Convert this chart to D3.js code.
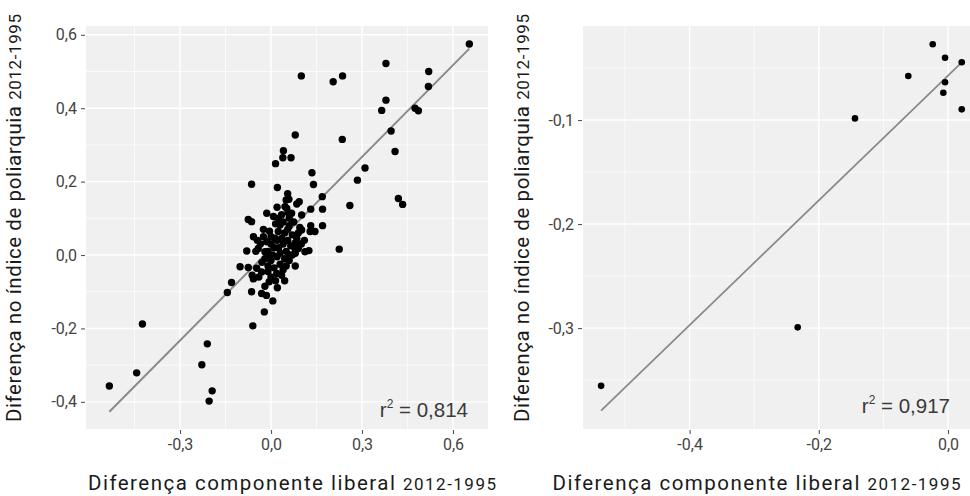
<!DOCTYPE html>
<html>
<head>
<meta charset="utf-8">
<script src="https://cdn.jsdelivr.net/npm/d3@7"></script>
<style>
  body { margin: 0; background: #fff; }
  .tick text { font-family: Roboto, "DejaVu Sans", sans-serif; font-size: 16px; fill: #444; }
  .title { font-family: Roboto, "DejaVu Sans", sans-serif; font-size: 20.5px; fill: #1a1a1a; }
  .rsq { font-family: "Liberation Sans", Arial, sans-serif; font-size: 20.5px; fill: #3a3a3a; }
</style>
</head>
<body>
<script>
// left panel: all countries
const leftPoints = [
  [0.654,0.575],[0.379,0.522],[0.520,0.500],[0.100,0.488],[0.236,0.488],[0.205,0.472],[0.519,0.459],
  [0.379,0.422],[0.365,0.394],[0.475,0.400],[0.486,0.393],[0.396,0.338],[0.080,0.327],[0.235,0.315],
  [0.409,0.282],[0.041,0.284],[0.039,0.265],[0.066,0.265],[0.015,0.249],[0.310,0.237],[0.135,0.224],
  [0.285,0.204],[-0.064,0.193],[0.021,0.184],[0.140,0.192],[0.055,0.167],[0.059,0.152],[0.169,0.159],
  [0.420,0.154],[0.434,0.138],[0.260,0.135],[0.093,0.145],[0.085,0.139],[0.046,0.132],[0.131,0.125],
  [0.170,0.125],[-0.014,0.114],[0.008,0.105],[-0.075,0.097],[-0.064,0.091],[0.057,0.115],[0.052,0.127],
  [0.068,0.114],[0.101,0.109],[0.225,0.016],[0.170,0.080],[0.131,0.080],[0.101,0.068],[0.129,0.064],
  [0.145,0.064],[0.079,0.018],[0.112,0.009],[0.125,0.012],[-0.080,0.011],[-0.058,0.050],[-0.025,0.050],
  [-0.102,-0.032],[-0.075,-0.034],[-0.062,-0.055],[-0.058,-0.065],[0.035,-0.055],[0.019,-0.050],
  [-0.064,-0.100],[-0.031,-0.105],[-0.020,-0.085],[0.021,-0.089],[0.006,-0.125],[-0.022,-0.155],
  [-0.060,-0.193],[-0.006,-0.073],[-0.130,-0.075],[-0.144,-0.102],[-0.424,-0.188],[-0.210,-0.242],
  [-0.228,-0.299],[-0.443,-0.321],[-0.533,-0.357],[-0.194,-0.370],[-0.204,-0.398],[-0.042,0.018],
  [-0.020,0.009],[-0.014,0.036],[-0.047,-0.036],[-0.031,-0.046],[0.079,0.032],[0.090,0.018],
  [0.030,0.082],[0.024,0.064],[0.013,0.046],
  [0.040,0.090],[0.060,0.080],[0.045,0.060],[0.070,0.055],[0.055,0.040],[0.040,0.030],[0.065,0.025],
  [0.050,0.010],[0.030,0.005],[0.010,0.020],[0.000,0.030],[-0.010,0.010],[0.020,-0.005],[0.045,-0.010],
  [0.060,-0.015],[0.000,-0.015],[-0.020,-0.010],[0.030,-0.025],[0.010,-0.035],[-0.010,-0.030],
  [-0.030,-0.020],[0.050,-0.030],[0.070,0.000],[0.085,0.045],[0.075,0.090],[0.035,0.110],[0.020,0.130],
  [-0.035,0.030],[-0.050,0.010],[-0.005,0.065],[0.015,0.085],[0.095,0.075],[0.110,0.040],[-0.040,-0.060],
  [0.000,-0.060],[0.045,-0.070],[-0.015,-0.110],[0.050,0.150],[0.100,0.030],[0.005,0.000],
  [0.000,0.050],[0.020,0.040],[0.060,0.000],[0.080,0.005],[-0.010,-0.045],[0.015,-0.070],[0.040,-0.040],
  [0.090,0.060],[0.060,0.100],[0.025,0.100],[-0.025,0.070],[-0.045,0.040],[0.080,-0.030],[0.025,0.020],
  [0.055,0.070],[-0.005,-0.005],[0.035,0.045]
];
const leftFit = [0.8335, 0.0172];   // slope, intercept
const leftXTicks = [-0.3, 0, 0.3, 0.6];
const leftYTicks = [-0.4, -0.2, 0, 0.2, 0.4, 0.6];
const leftRsq = "0,814";

// right panel: subset
const rightPoints = [
  [-0.0237,-0.0272],[-0.0046,-0.0401],[0.0212,-0.0445],[-0.0615,-0.0577],[-0.0046,-0.0637],
  [-0.0073,-0.0737],[0.0212,-0.0897],[-0.144,-0.0984],[-0.2327,-0.2993],[-0.537,-0.3555]
];
const rightFit = [0.600, -0.0572];
const rightXTicks = [-0.4, -0.2, 0];
const rightYTicks = [-0.1, -0.2, -0.3];
const rightRsq = "0,917";

const xTitle = "Diferença componente liberal";
const yTitle = "Diferença no índice de poliarquia";
const period = "2012-1995";

const svg = d3.select("body").append("svg").attr("width", 970).attr("height", 496);

const fmt = v => v.toFixed(1).replace(".", ",");

function drawPanel(o) {
  const x = d3.scaleLinear().domain(o.xDomain).range([o.left, o.right]);
  const y = d3.scaleLinear().domain(o.yDomain).range([o.bottom, o.top]);
  const g = svg.append("g");

  g.append("rect")
    .attr("x", o.left).attr("y", o.top)
    .attr("width", o.right - o.left).attr("height", o.bottom - o.top)
    .attr("fill", "#f0f0f0");

  // minor grid halfway between ticks
  const xm = [], ym = [];
  const sx = Math.abs(o.xTicks[1] - o.xTicks[0]), sy = Math.abs(o.yTicks[1] - o.yTicks[0]);
  for (let v = Math.ceil(o.xDomain[0] / sx) * sx - sx / 2; v < o.xDomain[1]; v += sx) if (v > o.xDomain[0]) xm.push(v);
  for (let v = Math.ceil(o.yDomain[0] / sy) * sy - sy / 2; v < o.yDomain[1]; v += sy) if (v > o.yDomain[0]) ym.push(v);

  g.selectAll(".xminor").data(xm).enter().append("line")
    .attr("x1", d => x(d)).attr("x2", d => x(d)).attr("y1", o.top).attr("y2", o.bottom)
    .attr("stroke", "#fff").attr("stroke-width", 0.7);
  g.selectAll(".yminor").data(ym).enter().append("line")
    .attr("y1", d => y(d)).attr("y2", d => y(d)).attr("x1", o.left).attr("x2", o.right)
    .attr("stroke", "#fff").attr("stroke-width", 0.7);
  g.selectAll(".xmajor").data(o.xTicks).enter().append("line")
    .attr("x1", d => x(d)).attr("x2", d => x(d)).attr("y1", o.top).attr("y2", o.bottom)
    .attr("stroke", "#fff").attr("stroke-width", 1.4);
  g.selectAll(".ymajor").data(o.yTicks).enter().append("line")
    .attr("y1", d => y(d)).attr("y2", d => y(d)).attr("x1", o.left).attr("x2", o.right)
    .attr("stroke", "#fff").attr("stroke-width", 1.4);

  // fit line, drawn over the data range
  const ext = d3.extent(o.points, d => d[0]);
  g.append("line")
    .attr("x1", x(ext[0])).attr("y1", y(o.fit[0] * ext[0] + o.fit[1]))
    .attr("x2", x(ext[1])).attr("y2", y(o.fit[0] * ext[1] + o.fit[1]))
    .attr("stroke", "#8a8a8a").attr("stroke-width", o.lineW);

  g.selectAll("circle").data(o.points).enter().append("circle")
    .attr("cx", d => x(d[0])).attr("cy", d => y(d[1]))
    .attr("r", o.r).attr("fill", "#000");

  const xAxis = g.append("g").attr("transform", "translate(0," + (o.bottom + 1) + ")")
    .call(d3.axisBottom(x).tickValues(o.xTicks).tickFormat(fmt).tickSize(4).tickPadding(5));
  const yAxis = g.append("g").attr("transform", "translate(" + (o.left - 1) + ",0)")
    .call(d3.axisLeft(y).tickValues(o.yTicks).tickFormat(fmt).tickSize(4).tickPadding(4));
  [xAxis, yAxis].forEach(a => {
    a.select(".domain").remove();
    a.selectAll(".tick line").attr("stroke", "#555").attr("stroke-width", 1.1);
  });

  g.append("text").attr("class", "rsq")
    .attr("x", o.right - 20).attr("y", o.rsqY).attr("text-anchor", "end")
    .html("r<tspan dy='-9' font-size='12'>2</tspan><tspan dy='9'> = " + o.rsq + "</tspan>");

  const xt = g.append("text").attr("class", "title")
    .attr("x", (o.left + o.right) / 2 + o.xTitleShift).attr("y", 490).attr("text-anchor", "middle")
    .attr("textLength", 408).attr("lengthAdjust", "spacing");
  xt.append("tspan").text(xTitle + " ");
  xt.append("tspan").attr("font-size", 17).text(period);

  const yt = g.append("text").attr("class", "title")
    .attr("transform", "translate(" + o.yTitleX + "," + 218 + ") rotate(-90)")
    .attr("text-anchor", "middle")
    .attr("textLength", 408).attr("lengthAdjust", "spacing");
  yt.append("tspan").text(yTitle + " ");
  yt.append("tspan").attr("font-size", 17).text(period);
}

drawPanel({
  points: leftPoints, fit: leftFit, xTicks: leftXTicks, yTicks: leftYTicks, rsq: leftRsq,
  left: 86, right: 488, top: 26, bottom: 429,
  xDomain: [-0.610, 0.7155], yDomain: [-0.474, 0.624],
  r: 3.7, lineW: 2, rsqY: 417, xTitleShift: 5, yTitleX: 21
});
drawPanel({
  points: rightPoints, fit: rightFit, xTicks: rightXTicks, yTicks: rightYTicks, rsq: rightRsq,
  left: 583, right: 970, top: 26, bottom: 429,
  xDomain: [-0.565, 0.034], yDomain: [-0.397, -0.0096],
  r: 3.3, lineW: 1.8, rsqY: 413, xTitleShift: -20, yTitleX: 529
});
</script>
</body>
</html>
